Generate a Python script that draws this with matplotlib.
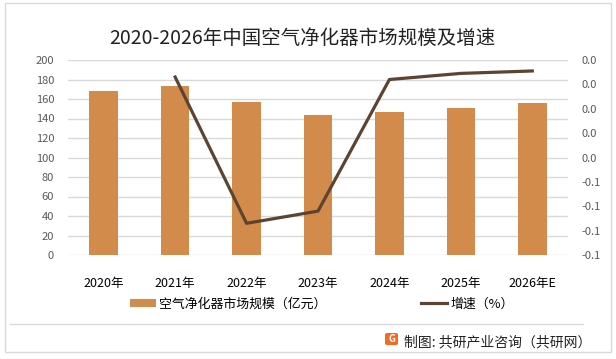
import numpy as np
import matplotlib
matplotlib.use('Agg')
import matplotlib.pyplot as plt
from matplotlib.patches import Rectangle, FancyBboxPatch, Patch
from matplotlib.lines import Line2D

plt.rcParams['font.family'] = ['Noto Sans CJK SC', 'DejaVu Sans']

# data
years = ['2020年', '2021年', '2022年', '2023年', '2024年', '2025年', '2026年E']
market_size = [168.2, 173.3, 156.9, 143.6, 146.7, 150.8, 155.9]   # 亿元
growth = [np.nan, 0.026, -0.094, -0.084, 0.024, 0.029, 0.031]    # 增速

bar_color = '#D38B4C'
line_color = '#5C4431'
grid_color = '#D9D9D9'
tick_color = '#595959'

fig = plt.figure(figsize=(6.16, 3.59), dpi=100)

# outer frame and separator above the source line
fig.patches.append(Rectangle((5 / 616, 1 - 352 / 359), 606 / 616, 349 / 359,
                             transform=fig.transFigure, fill=False,
                             edgecolor=grid_color, lw=1))
fig.add_artist(Line2D([10 / 616, 583 / 616], [1 - 324 / 359] * 2,
                      transform=fig.transFigure, color=grid_color, lw=1))

ax = fig.add_axes([68 / 616, 1 - 255 / 359, 500 / 616, 195 / 359])
x = np.arange(len(years))
ax.bar(x, market_size, width=0.4, color=bar_color, zorder=2)
ax.set_xlim(-0.5, len(years) - 0.5)
ax.set_ylim(0, 200)
ax.set_yticks(np.arange(0, 201, 20))
ax.grid(axis='y', color=grid_color, lw=1, zorder=0)
ax.set_xticks(x)
ax.set_xticklabels(years, fontsize=9, color='black')
ax.tick_params(axis='x', length=0, pad=16)
ax.tick_params(axis='y', length=0, pad=10, labelsize=8, labelcolor=tick_color)
for s in ax.spines.values():
    s.set_visible(False)

ax2 = ax.twinx()
ax2.plot(x, growth, color=line_color, lw=2.3, zorder=3)
ax2.set_ylim(-0.12, 0.04)
ticks = np.arange(-0.12, 0.041, 0.02)
ax2.set_yticks(ticks)
ax2.set_yticklabels([f'{round(t, 1) + 0.0:.1f}' for t in ticks])
ax2.tick_params(axis='y', length=0, pad=10, labelsize=8, labelcolor=tick_color)
for s in ax2.spines.values():
    s.set_visible(False)

fig.text(302 / 616, 1 - 38 / 359, '2020-2026年中国空气净化器市场规模及增速',
         ha='center', va='center', fontsize=14, color='#222222')

handles = [Patch(facecolor=bar_color, edgecolor='none'),
           Line2D([], [], color=line_color, lw=2.3)]
fig.legend(handles, ['空气净化器市场规模（亿元）', '增速（%）'],
           loc='center', bbox_to_anchor=(322 / 616, 1 - 304 / 359), ncol=2,
           frameon=False, fontsize=9.3, handlelength=2.0, handleheight=0.6,
           handletextpad=0.3, columnspacing=7.3)

# source line with small logo
fig.patches.append(FancyBboxPatch((385 / 616, 1 - 345 / 359), 13 / 616, 12 / 359,
                                  boxstyle='round,pad=0,rounding_size=0.004',
                                  transform=fig.transFigure,
                                  facecolor='#F26B21', edgecolor='none'))
fig.text(391.5 / 616, 1 - 339 / 359, 'G', ha='center', va='center',
         fontsize=7, fontweight='bold', color='white')
fig.text(404 / 616, 1 - 342 / 359, '制图: 共研产业咨询（共研网）',
         ha='left', va='center', fontsize=10, color='#222222')

fig.savefig('out.png', dpi=100)
